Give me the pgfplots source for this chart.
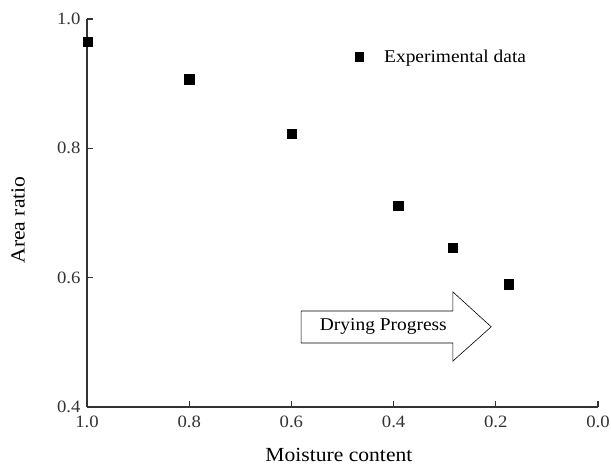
\documentclass[border=0pt]{standalone}
\usepackage{fontspec}
\setmainfont{Liberation Serif}[FakeStretch=1.08]
\usepackage{pgfplots}
\pgfplotsset{compat=1.18}
\begin{document}
\begin{tikzpicture}
\begin{axis}[
  scale only axis,
  width=511pt, height=388pt,
  xmin=0, xmax=1, ymin=0.4, ymax=1.0,
  x dir=reverse,
  axis lines*=left,
  axis line style={line width=1.3pt, black!80},
  xtick={0,0.2,0.4,0.6,0.8,1.0},
  ytick={0.4,0.6,0.8,1.0},
  minor tick num=0,
  tick align=inside,
  major tick length=6pt,
  tick style={line width=1.3pt, black!80},
  /pgf/number format/assume math mode=true,
  /pgf/number format/fixed,
  /pgf/number format/fixed zerofill,
  /pgf/number format/precision=1,
  ticklabel style={font=\fontsize{17.3pt}{20pt}\selectfont, text=black!80},
  xticklabel style={yshift=-5pt},
  yticklabel style={xshift=-3pt},
  xlabel={Moisture content},
  ylabel={Area ratio},
  label style={font=\fontsize{20pt}{24pt}\selectfont},
  xlabel style={at={(axis description cs:0.493,-0.124)}, anchor=center},
  ylabel style={at={(axis description cs:-0.135,0.482)}, anchor=center, rotate=0},
  clip=false,
  legend style={draw=none, fill=none, inner sep=0pt, at={(axis description cs:0.524,0.902)}, anchor=west,
    font=\fontsize{18pt}{21pt}\selectfont},
  legend image code/.code={\node[fill=black, draw=none, minimum size=9.2pt, inner sep=0pt] at (4.6pt,0pt) {}; \node[draw=none, fill=none, minimum width=27pt, minimum height=1pt, inner sep=0pt, anchor=west] at (0pt,0pt) {};},
]
\addplot[only marks, mark=square*, mark size=4.6pt, color=black] coordinates {
  (0.998,0.965) (0.800,0.907) (0.600,0.823) (0.391,0.711) (0.285,0.646) (0.174,0.590)
};
\addlegendentry{Experimental data}
\draw[line width=0.6pt, fill=white]
  (axis cs:0.581,0.5485) -- (axis cs:0.284,0.5485) -- (axis cs:0.284,0.578)
  -- (axis cs:0.209,0.524) -- (axis cs:0.284,0.471) -- (axis cs:0.284,0.499)
  -- (axis cs:0.581,0.499) -- cycle;
\node[font=\fontsize{18pt}{21pt}\selectfont] at (axis cs:0.420,0.524) {Drying Progress};
\end{axis}
\pgfresetboundingbox
\path (-87pt,-63pt) rectangle (524pt,407pt);
\end{tikzpicture}
\end{document}
